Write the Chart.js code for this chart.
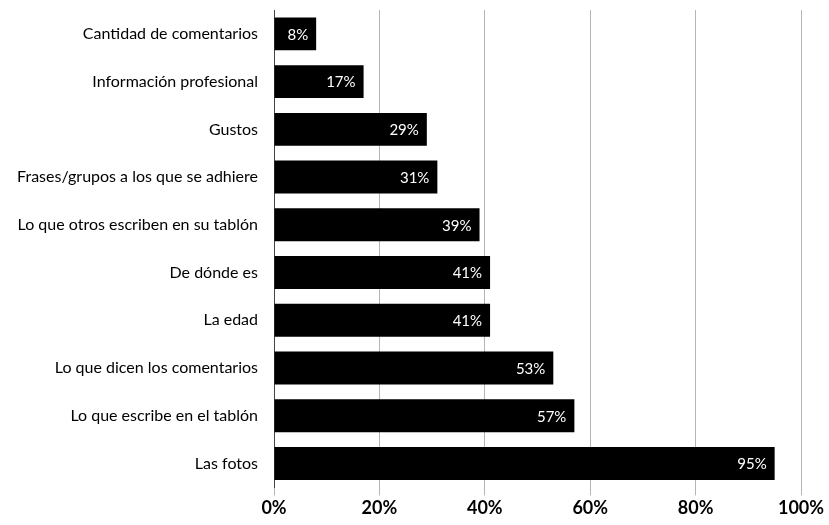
<!DOCTYPE html>
<html>
<head>
<meta charset="utf-8">
<script src="https://cdn.jsdelivr.net/npm/chart.js@4.4.0/dist/chart.umd.min.js"></script>
<style>
  html, body { margin: 0; padding: 0; background: #fff; }
  #wrap { width: 829px; height: 525px; }
</style>
</head>
<body>
<div id="wrap"><canvas id="myChart" width="829" height="525"></canvas></div>
<script>
// categories, top to bottom
const categories = [
	'Cantidad de comentarios',
	'Información profesional',
	'Gustos',
	'Frases/grupos a los que se adhiere',
	'Lo que otros escriben en su tablón',
	'De dónde es',
	'La edad',
	'Lo que dicen los comentarios',
	'Lo que escribe en el tablón',
	'Las fotos'
];
// percent values for each category
const percents = [8, 17, 29, 31, 39, 41, 41, 53, 57, 95];
const tickValues = [0, 20, 40, 60, 80, 100];

const fontFamily = "Lato, 'Open Sans', sans-serif";

// writes the white % label inside the end of each bar
const barLabels = {
	id: 'barLabels',
	afterDatasetsDraw(chart) {
		const ctx = chart.ctx;
		const meta = chart.getDatasetMeta(0);
		ctx.save();
		ctx.fillStyle = '#fff';
		ctx.font = '15px ' + fontFamily;
		ctx.textAlign = 'right';
		ctx.textBaseline = 'middle';
		meta.data.forEach(function (bar, i) {
			ctx.fillText(percents[i] + '%', bar.x - 8, bar.y + 1);
		});
		ctx.restore();
	}
};

const ctx = document.getElementById('myChart');
const myChart = new Chart(ctx, {
	type: 'bar',
	data: {
		labels: categories,
		datasets: [{
			data: percents,
			backgroundColor: '#000',
			borderWidth: 0,
			categoryPercentage: 0.69,
			barPercentage: 1
		}]
	},
	options: {
		indexAxis: 'y',
		responsive: false,
		animation: false,
		layout: {
			padding: { top: 10, right: 28, left: 0, bottom: 4 }
		},
		plugins: {
			legend: { display: false },
			tooltip: { enabled: false }
		},
		scales: {
			x: {
				min: 0,
				max: 100,
				afterBuildTicks: function (scale) {
					scale.ticks = tickValues.map(v => ({ value: v }));
				},
				grid: {
					color: '#b5b5b5',
					lineWidth: 1,
					drawTicks: true,
					tickLength: 8
				},
				border: { display: false },
				ticks: {
					color: '#000',
					padding: 2,
					maxRotation: 0,
					font: { family: fontFamily, size: 18, weight: 'bold' },
					callback: v => v + '%'
				}
			},
			y: {
				afterFit: function (scale) {
					scale.width = 274;
					scale.paddingTop = 0;
				},
				grid: { display: false },
				border: { display: true, color: '#444', width: 1 },
				ticks: {
					color: '#000',
					padding: 8,
					font: { family: fontFamily, size: 16 }
				}
			}
		}
	},
	plugins: [barLabels]
});
</script>
</body>
</html>
